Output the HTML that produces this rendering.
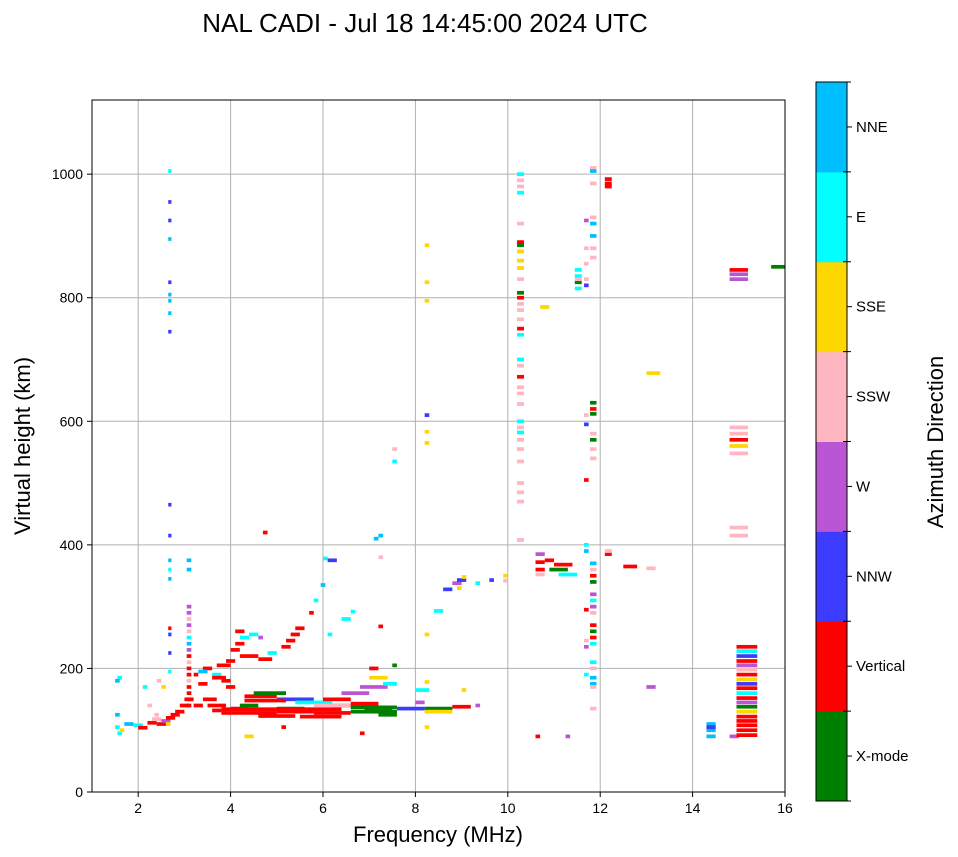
<!DOCTYPE html>
<html><head><meta charset="utf-8">
<style>
html,body{margin:0;padding:0;background:#fff;}
svg{display:block;font-family:"Liberation Sans","DejaVu Sans",sans-serif;}
</style></head>
<body>
<svg id="chart" width="958" height="857" viewBox="0 0 958 857">
<text x="425" y="32" font-size="26" text-anchor="middle">NAL CADI - Jul 18 14:45:00 2024 UTC</text>
<g id="grid"></g>
<g id="marks"></g>
<rect x="92" y="100" width="693" height="692" fill="none" stroke="#000" stroke-width="1"/>
<g id="axes"></g>
<text x="438" y="842" font-size="22" text-anchor="middle">Frequency (MHz)</text>
<text transform="translate(30,446) rotate(-90)" font-size="22" text-anchor="middle">Virtual height (km)</text>
<g id="cbar"></g>
<text transform="translate(943,442) rotate(-90)" font-size="22" text-anchor="middle">Azimuth Direction</text>
</svg>
<script>
const directions=["X-mode","Vertical","NNW","W","SSW","SSE","E","NNE"];
const dirColors=["#008000","#ff0000","#3c3cff","#ba55d3","#ffb6c1","#ffd700","#00ffff","#00bfff"];
const xTicks=[2,4,6,8,10,12,14,16];
const yTicks=[0,200,400,600,800,1000];
// echoes: [freqStart MHz, freqEnd MHz, height km, direction index]
const echoes=[
[1.5,1.6,105,6],[1.55,1.65,95,6],[1.5,1.6,125,7],[1.55,1.65,185,6],[1.5,1.6,180,7],[1.6,1.7,100,5],[1.7,1.9,110,7],[1.9,2.1,108,6],[2.0,2.2,104,1],[2.2,2.4,112,1],[2.3,2.5,118,4],[2.4,2.6,110,1],[2.5,2.7,115,3],[2.6,2.8,120,1],[2.7,2.9,125,1],[2.8,3.0,130,1],[2.9,3.1,140,1],[3.0,3.2,150,1],[2.5,2.6,170,5],[2.1,2.2,170,6],[2.4,2.5,180,4],[2.2,2.3,140,4],[2.35,2.45,125,4],[2.6,2.7,110,5],
[2.65,2.72,1005,6],[2.65,2.72,955,2],[2.65,2.72,925,2],[2.65,2.72,895,7],[2.65,2.72,825,2],[2.65,2.72,805,7],[2.65,2.72,795,7],[2.65,2.72,775,7],[2.65,2.72,745,2],[2.65,2.72,465,2],[2.65,2.72,415,2],[2.65,2.72,375,7],[2.65,2.72,360,6],[2.65,2.72,345,7],[2.65,2.72,265,1],[2.65,2.72,255,2],[2.65,2.72,225,2],[2.65,2.72,195,6],
[3.05,3.15,375,7],[3.05,3.15,360,7],[3.05,3.15,300,3],[3.05,3.15,290,3],[3.05,3.15,280,4],[3.05,3.15,270,3],[3.05,3.15,260,4],[3.05,3.15,250,6],[3.05,3.15,240,7],[3.05,3.15,230,3],[3.05,3.15,220,1],[3.05,3.15,210,4],[3.05,3.15,200,1],[3.05,3.15,190,1],[3.05,3.15,180,4],[3.05,3.15,170,1],[3.05,3.15,160,1],[3.05,3.15,150,1],[3.05,3.15,140,1],
[3.2,3.4,140,1],[3.3,3.5,175,1],[3.4,3.6,200,1],[3.4,3.7,150,1],[3.5,3.9,140,1],[3.6,3.8,190,6],[3.7,4.0,205,1],[3.8,4.0,180,1],[3.9,4.1,170,1],[3.9,4.1,212,1],[3.6,3.8,132,1],[3.2,3.3,190,1],[3.3,3.5,195,7],[3.6,3.9,185,1],
[3.8,5.0,128,1],[5.0,5.8,130,1],[5.8,6.6,128,1],[6.6,7.6,130,0],[7.6,8.2,135,2],[8.2,8.8,135,0],[8.8,9.2,138,1],[9.3,9.4,140,3],[5.0,5.6,135,0],[4.0,4.4,135,1],[4.2,4.6,140,0],[4.3,5.0,155,1],[4.5,5.2,160,0],[5.0,5.8,150,2],[5.4,6.2,145,6],[6.0,6.6,150,1],[6.4,7.0,160,3],[6.8,7.4,170,3],[7.0,7.4,185,5],[7.3,7.6,175,6],[7.0,7.2,200,1],[7.5,7.6,205,0],[6.2,7.0,140,1],[8.0,8.3,165,6],[8.0,8.2,145,3],[4.6,5.4,123,1],[5.5,6.4,122,1],[6.8,6.9,95,1],[5.1,5.2,105,1],[6.9,7.5,135,0],[7.2,7.6,125,0],[8.2,8.8,130,5],[4.3,4.5,90,5],
[3.8,6.4,134,1],[6.6,7.6,137,0],[4.3,5.2,148,1],[5.8,6.6,140,4],[6.6,7.2,143,1],
[4.2,4.6,220,1],[4.6,4.9,215,1],[4.8,5.0,225,6],[4.0,4.2,230,1],[4.1,4.3,240,1],[4.2,4.4,250,6],[4.1,4.3,260,1],[4.4,4.6,255,6],[4.6,4.7,250,3],[5.1,5.3,235,1],[5.2,5.4,245,1],[5.3,5.5,255,1],[5.4,5.6,265,1],[5.7,5.8,290,1],[5.8,5.9,310,6],[5.95,6.05,335,7],[6.0,6.1,378,6],[6.1,6.3,375,2],[6.1,6.2,255,6],[6.4,6.6,280,6],[6.6,6.7,292,6],[4.7,4.8,420,1],[7.1,7.2,410,7],[7.2,7.3,415,7],[7.2,7.3,380,4],[7.2,7.3,268,1],[7.5,7.6,555,4],[7.5,7.6,535,6],
[8.4,8.6,293,6],[8.6,8.8,328,2],[8.8,9.0,338,3],[8.9,9.1,343,2],[9.0,9.1,348,5],[9.3,9.4,338,6],[9.6,9.7,343,2],[9.9,10.0,350,5],[9.9,10.0,342,4],[9.0,9.1,165,5],[8.9,9.0,330,5],
[8.2,8.3,885,5],[8.2,8.3,825,5],[8.2,8.3,795,5],[8.2,8.3,610,2],[8.2,8.3,583,5],[8.2,8.3,565,5],[8.2,8.3,255,5],[8.2,8.3,178,5],[8.2,8.3,105,5],
[10.2,10.35,1000,6],[10.2,10.35,990,4],[10.2,10.35,980,4],[10.2,10.35,970,6],[10.2,10.35,920,4],[10.2,10.35,890,1],[10.2,10.35,885,0],[10.2,10.35,875,5],[10.2,10.35,860,5],[10.2,10.35,848,5],[10.2,10.35,830,4],[10.2,10.35,808,0],[10.2,10.35,800,1],[10.2,10.35,790,4],[10.2,10.35,780,4],[10.2,10.35,765,4],[10.2,10.35,750,1],[10.2,10.35,740,6],[10.2,10.35,700,6],[10.2,10.35,690,4],[10.2,10.35,672,1],[10.2,10.35,655,4],[10.2,10.35,645,4],[10.2,10.35,628,4],[10.2,10.35,600,6],[10.2,10.35,590,4],[10.2,10.35,582,6],[10.2,10.35,570,4],[10.2,10.35,555,4],[10.2,10.35,535,4],[10.2,10.35,500,4],[10.2,10.35,485,4],[10.2,10.35,470,4],[10.2,10.35,408,4],[10.7,10.9,785,5],
[10.6,10.8,385,3],[10.6,10.8,372,1],[10.6,10.8,360,1],[10.8,11.0,375,1],[11.0,11.4,368,1],[10.9,11.3,360,0],[11.1,11.5,352,6],[10.6,10.8,352,4],[10.6,10.7,90,1],[11.25,11.35,90,3],
[11.45,11.6,845,6],[11.45,11.6,835,6],[11.45,11.6,825,0],[11.45,11.6,815,6],[11.45,11.6,830,4],
[11.65,11.75,925,3],[11.65,11.75,880,4],[11.65,11.75,855,4],[11.65,11.75,830,4],[11.65,11.75,820,2],[11.65,11.75,610,4],[11.65,11.75,595,2],[11.65,11.75,505,1],[11.65,11.75,400,6],[11.65,11.75,390,7],[11.65,11.75,295,1],[11.65,11.75,245,4],[11.65,11.75,235,3],[11.65,11.75,190,6],
[11.78,11.92,1010,4],[11.78,11.92,1005,7],[11.78,11.92,985,4],[11.78,11.92,930,4],[11.78,11.92,920,7],[11.78,11.92,900,7],[11.78,11.92,880,4],[11.78,11.92,865,4],[11.78,11.92,630,0],[11.78,11.92,620,1],[11.78,11.92,612,0],[11.78,11.92,580,4],[11.78,11.92,570,0],[11.78,11.92,555,4],[11.78,11.92,540,4],[11.78,11.92,370,7],[11.78,11.92,360,4],[11.78,11.92,350,1],[11.78,11.92,340,0],[11.78,11.92,320,3],[11.78,11.92,310,6],[11.78,11.92,300,3],[11.78,11.92,290,4],[11.78,11.92,270,1],[11.78,11.92,260,0],[11.78,11.92,250,1],[11.78,11.92,240,6],[11.78,11.92,210,6],[11.78,11.92,200,4],[11.78,11.92,185,7],[11.78,11.92,175,7],[11.78,11.92,170,4],[11.78,11.92,135,4],
[12.1,12.25,992,1],[12.1,12.25,985,1],[12.1,12.25,980,1],[12.1,12.25,385,1],[12.1,12.25,390,4],
[12.5,12.8,365,1],[13.0,13.3,678,5],[13.0,13.2,362,4],[13.0,13.2,170,3],[14.3,14.5,110,7],[14.3,14.5,100,7],[14.3,14.5,90,7],[14.3,14.5,105,2],[14.8,15.0,90,3],
[14.8,15.2,845,1],[14.8,15.2,838,3],[14.8,15.2,830,3],[14.8,15.2,590,4],[14.8,15.2,580,4],[14.8,15.2,570,1],[14.8,15.2,560,5],[14.8,15.2,548,4],[14.8,15.2,428,4],[14.8,15.2,415,4],
[14.95,15.4,235,1],[14.95,15.4,228,6],[14.95,15.4,220,2],[14.95,15.4,212,1],[14.95,15.4,205,3],[14.95,15.4,198,4],[14.95,15.4,190,1],[14.95,15.4,182,5],[14.95,15.4,175,2],[14.95,15.4,168,1],[14.95,15.4,160,6],[14.95,15.4,152,1],[14.95,15.4,145,3],[14.95,15.4,138,0],[14.95,15.4,130,5],[14.95,15.4,122,1],[14.95,15.4,115,1],[14.95,15.4,108,1],[14.95,15.4,100,1],[14.95,15.4,92,1],
[15.7,16.0,850,0]
];
const NS="http://www.w3.org/2000/svg";
const X0=92,X1=785,Y0=792,Y1=100,FMIN=1,FMAX=16,HMIN=0,HMAX=1120;
function xScale(f){return X0+(f-FMIN)/(FMAX-FMIN)*(X1-X0);}
function yScale(h){return Y0-(h-HMIN)/(HMAX-HMIN)*(Y0-Y1);}
function mk(tag,attrs,parent){const e=document.createElementNS(NS,tag);for(const k in attrs)e.setAttribute(k,attrs[k]);parent.appendChild(e);return e;}
const grid=document.getElementById('grid'),axes=document.getElementById('axes'),marks=document.getElementById('marks'),cbar=document.getElementById('cbar');
xTicks.forEach(t=>{const x=xScale(t);
 const g=mk('line',{x1:x,x2:x,y1:Y1,y2:Y0,stroke:'#b0b0b0','stroke-width':1},grid);
 
 
 mk('line',{x1:x,x2:x,y1:Y0,y2:Y0+5,stroke:'#000'},axes);
 const tx=mk('text',{x:x,y:Y0+21,'font-size':14,'text-anchor':'middle'},axes);tx.textContent=t;
 
 
});
yTicks.forEach(t=>{const y=yScale(t);
 const g=mk('line',{x1:X0,x2:X1,y1:y,y2:y,stroke:'#b0b0b0','stroke-width':1},grid);
 
 
 mk('line',{x1:X0-5,x2:X0,y1:y,y2:y,stroke:'#000'},axes);
 const tx=mk('text',{x:X0-9,y:y+5,'font-size':14,'text-anchor':'end'},axes);tx.textContent=t;
 
 
});
echoes.forEach(e=>{
 const x=xScale(e[0]),w=Math.max(2,xScale(e[1])-x),y=yScale(e[2]+3),h=yScale(e[2]-3)-y;
 const r=mk('rect',{x:x,y:y,width:w,height:h,fill:dirColors[e[3]]},marks);
 
 
});
const CX=816,CW=31,CT=82,CB=801,seg=(CB-CT)/directions.length;
directions.forEach((d,i)=>{
 const y=CB-(i+1)*seg;
 const r=mk('rect',{x:CX,y:y,width:CW,height:seg+0.5,fill:dirColors[i]},cbar);
 
 
 const tx=mk('text',{x:CX+CW+9,y:y+seg/2+5,'font-size':15},cbar);tx.textContent=d;
 
 
 mk('line',{x1:CX+CW,x2:CX+CW+5,y1:y+seg/2,y2:y+seg/2,stroke:'#000'},cbar);
});
for(let i=0;i<=directions.length;i++){const y=CB-i*seg;mk('line',{x1:CX+CW-4,x2:CX+CW+4,y1:y,y2:y,stroke:'#000'},cbar);}
mk('rect',{x:CX,y:CT,width:CW,height:CB-CT,fill:'none',stroke:'#000'},cbar);
</script>
</body></html>
